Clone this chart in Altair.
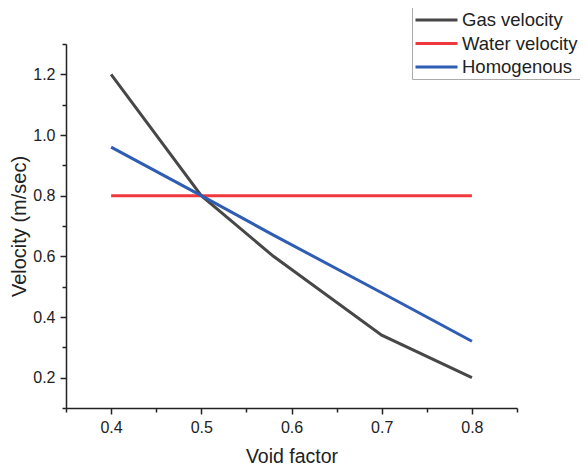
import altair as alt
import pandas as pd

void = [0.4, 0.5, 0.58, 0.7, 0.8]
gas = [1.2, 0.8, 0.6, 0.34, 0.2]
water = [0.8, 0.8, 0.8, 0.8, 0.8]
homog = [0.96, 0.8, 0.67, 0.48, 0.32]
series = ["Gas velocity", "Water velocity", "Homogenous"]
colors = ["#474747", "#f0393c", "#2f5db3"]
x_major = [0.4, 0.5, 0.6, 0.7, 0.8]
x_minor = [0.35, 0.45, 0.55, 0.65, 0.75, 0.85]
y_major = [0.2, 0.4, 0.6, 0.8, 1.0, 1.2]
y_minor = [0.1, 0.3, 0.5, 0.7, 0.9, 1.1, 1.3]

rows = []
for name, vals in zip(series, [gas, water, homog]):
    for x, y in zip(void, vals):
        rows.append({"Void factor": x, "Velocity": y, "Series": name})
df = pd.DataFrame(rows)

font = "Liberation Sans"
ink = "#222222"
xscale = alt.Scale(domain=[0.35, 0.85], nice=False, zero=False)
yscale = alt.Scale(domain=[0.1, 1.3], nice=False, zero=False)

common_axis = dict(domainColor=ink, domainWidth=1.5, tickColor=ink,
                   tickWidth=1.5, grid=False, labelFont=font, titleFont=font,
                   labelColor=ink, titleColor=ink, labelFontSize=16,
                   titleFontWeight="normal", tickSize=6)

lines = alt.Chart(df).mark_line(strokeWidth=3).encode(
    x=alt.X("Void factor:Q", scale=xscale,
            axis=alt.Axis(values=x_major, format=".1f", titleFontSize=19.5,
                          labelPadding=5, titlePadding=12,
                          orient="bottom", **common_axis)),
    y=alt.Y("Velocity:Q", scale=yscale, title="Velocity (m/sec)",
            axis=alt.Axis(values=y_major, format=".1f", titleFontSize=20,
                          labelPadding=5, titlePadding=3,
                          orient="left", **common_axis)),
    color=alt.Color("Series:N", sort=series,
                    scale=alt.Scale(domain=series, range=colors),
                    legend=alt.Legend(title=None, orient="none", legendX=346, legendY=-38,
                                      symbolType="M-1,0H3", symbolSize=441,
                                      symbolStrokeWidth=3, labelFont=font,
                                      labelFontSize=18.5, labelColor=ink,
                                      strokeColor="#aaaaaa", padding=2,
                                      rowPadding=1.5, labelOffset=24, labelLimit=300)),
)

minor = alt.Chart(df).mark_line(opacity=0).encode(
    x=alt.X("Void factor:Q", scale=xscale, title=None,
            axis=alt.Axis(values=x_minor, labels=False,
                          tickSize=4, orient="bottom", domain=False,
                          tickColor=ink, tickWidth=1.5, grid=False)),
    y=alt.Y("Velocity:Q", scale=yscale, title=None,
            axis=alt.Axis(values=y_minor, labels=False,
                          tickSize=4, orient="left", domain=False,
                          tickColor=ink, tickWidth=1.5, grid=False)),
)

chart = alt.layer(lines, minor).resolve_axis(x="independent", y="independent").properties(
    width=451, height=364,
    autosize=alt.AutoSizeParams(type="none"),
    padding={"left": 58, "top": 36, "right": 63, "bottom": 60},
).configure_view(stroke=None)

chart.save("out.html", embed_options={"renderer": "svg", "actions": False})
